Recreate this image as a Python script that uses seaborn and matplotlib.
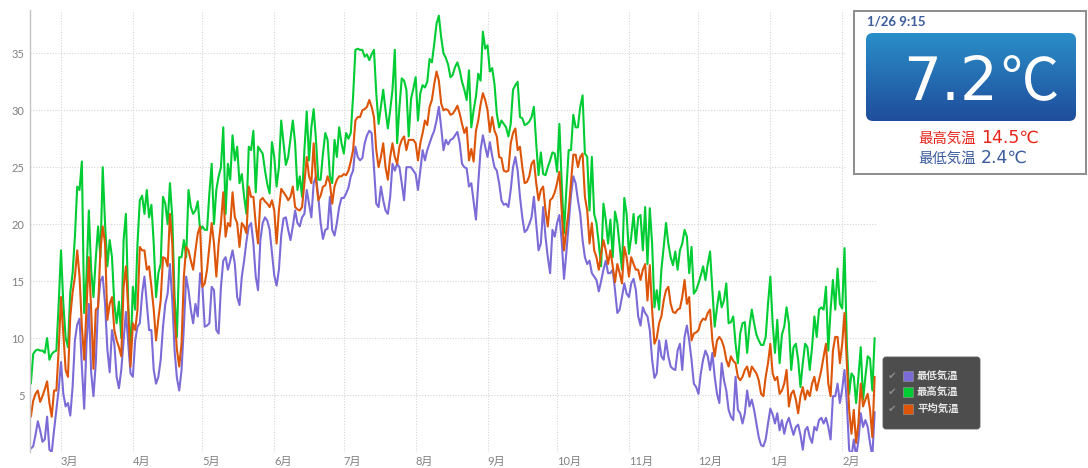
import numpy as np
import pandas as pd
import seaborn as sns
import matplotlib.pyplot as plt
import matplotlib.transforms as mtransforms
from matplotlib.patches import FancyBboxPatch, Rectangle
from matplotlib.colors import LinearSegmentedColormap

start_date = "2014-02-16"
series_names = ["最低気温", "最高気温", "平均気温"]
series_colors = ["#7b6bd6", "#00cc33", "#dd5508"]
month_labels = ["3月", "4月", "5月", "6月", "7月", "8月", "9月", "10月", "11月", "12月", "1月", "2月"]

# current readings shown in the panel
now_label = "1/26 9:15"
now_temp = 7.2
today_max = 14.5
today_min = 2.4

temp_max = [
    6.0, 8.6, 8.9, 9.0, 8.9, 8.9, 8.7, 10.0, 8.1, 8.6,
    8.8, 8.9, 13.0, 17.7, 13.0, 10.0, 9.2, 14.0, 15.7, 18.9,
    23.3, 23.0, 25.5, 12.2, 15.4, 21.2, 16.0, 13.6, 17.0, 19.8,
    17.1, 25.0, 20.0, 16.3, 18.6, 17.1, 13.0, 11.3, 13.2, 10.0,
    18.6, 20.9, 13.0, 8.4, 14.5, 12.5, 18.3, 22.1, 22.5, 20.9,
    23.0, 20.6, 21.7, 18.3, 13.6, 15.7, 16.5, 22.4, 21.8, 20.0,
    23.6, 20.6, 13.6, 10.1, 17.1, 17.1, 18.6, 17.1, 23.0, 21.5,
    20.9, 21.2, 22.0, 19.5, 19.8, 19.5, 19.5, 22.7, 25.3, 20.0,
    23.0, 24.2, 25.0, 28.5, 20.9, 25.3, 23.9, 27.8, 25.6, 26.8,
    23.6, 24.4, 22.4, 20.9, 26.8, 26.5, 28.2, 22.8, 26.8, 26.5,
    26.2, 24.7, 23.5, 22.7, 27.2, 25.9, 23.3, 25.0, 29.1, 27.1,
    25.2, 25.9, 27.5, 29.1, 27.1, 23.0, 24.2, 22.4, 26.5, 29.9,
    25.6, 28.5, 30.1, 27.4, 23.9, 23.9, 26.2, 28.0, 27.4, 24.2,
    23.6, 27.4, 25.9, 28.5, 27.1, 26.2, 28.0, 27.5, 28.0, 31.2,
    35.3, 35.4, 35.3, 35.3, 34.7, 34.9, 34.4, 34.9, 35.3, 31.5,
    28.8, 30.3, 31.8, 30.0, 28.4, 30.0, 31.8, 35.3, 27.1, 30.3,
    32.8, 32.6, 31.8, 27.7, 31.0, 31.9, 32.9, 29.1, 31.5, 32.2,
    32.0, 32.5, 34.5, 34.2, 35.8, 37.6, 38.3, 36.4, 35.0, 34.6,
    34.0, 32.9, 33.1, 33.8, 34.2, 33.5, 32.5, 31.8, 30.9, 33.5,
    28.5, 30.0, 31.2, 33.2, 32.6, 36.9, 35.4, 35.7, 33.4, 33.7,
    32.3, 29.7, 28.5, 29.1, 28.8, 28.5, 27.7, 28.8, 31.8, 32.2,
    32.5, 29.4, 29.3, 28.7, 28.8, 29.0, 29.4, 30.3, 27.1, 24.3,
    26.3, 24.4, 24.3, 25.0, 25.6, 26.3, 26.2, 24.6, 28.8, 23.6,
    19.2, 23.0, 26.5, 26.5, 29.6, 28.5, 28.5, 30.3, 31.3, 26.2,
    25.9, 21.2, 25.9, 20.9, 20.1, 18.3, 16.3, 21.8, 20.4, 18.3,
    20.4, 17.1, 21.1, 20.1, 18.0, 16.0, 22.3, 20.9, 17.4, 18.9,
    20.9, 18.3, 20.6, 20.8, 17.7, 21.5, 16.5, 21.4, 18.3, 12.7,
    14.2, 12.5, 16.0, 18.0, 20.1, 18.3, 17.1, 16.4, 17.6, 16.0,
    17.7, 18.3, 19.5, 18.9, 15.7, 18.0, 13.9, 14.2, 14.8, 15.5,
    16.3, 15.1, 16.5, 17.6, 14.2, 11.0, 12.7, 14.1, 12.7, 13.3,
    14.8, 11.3, 11.4, 11.9, 9.5, 7.8, 10.4, 11.3, 11.4, 8.7,
    11.0, 12.5, 11.3, 10.3, 9.8, 9.4, 9.4, 10.1, 13.0, 15.4,
    11.3, 8.7, 11.6, 7.8, 10.3, 11.0, 12.7, 11.3, 7.2, 9.2,
    9.5, 8.1, 5.7, 7.8, 9.5, 9.2, 7.2, 9.2, 11.9, 10.1,
    12.5, 12.7, 12.5, 14.5, 8.9, 12.5, 15.1, 12.5, 16.1, 13.0,
    12.6, 17.9, 9.5, 5.1, 6.9, 6.6, 4.3, 6.6, 9.2, 4.6,
    6.6, 8.4, 8.2, 5.4, 10.0,
]

temp_avg = [
    3.1, 4.5, 5.1, 5.4, 4.4, 4.9, 5.5, 6.2, 4.3, 3.1,
    5.4, 5.4, 9.0, 13.6, 10.4, 7.2, 6.6, 11.9, 14.0, 15.4,
    17.7, 15.4, 11.0, 8.1, 12.5, 17.1, 12.5, 7.3, 12.5, 12.7,
    17.7, 19.8, 18.3, 11.6, 13.0, 13.6, 10.7, 9.8, 9.2, 8.4,
    14.5, 16.3, 12.5, 7.5, 11.3, 10.7, 12.5, 18.0, 17.7, 17.7,
    16.0, 16.3, 14.5, 12.5, 9.8, 11.7, 13.3, 17.1, 17.0, 16.3,
    20.9, 18.3, 11.9, 9.0, 7.5, 9.5, 15.4, 18.0, 17.7, 16.8,
    16.0, 17.7, 19.2, 19.8, 14.5, 14.8, 16.0, 18.0, 20.1, 18.3,
    15.4, 18.3, 20.1, 22.8, 18.9, 20.1, 19.8, 22.8, 20.6, 20.1,
    18.0, 20.1, 19.8, 19.2, 23.3, 22.4, 22.4, 20.0, 18.3, 22.1,
    22.3, 22.0, 21.8, 21.5, 22.1, 21.2, 18.3, 21.2, 23.1, 22.8,
    22.5, 22.1, 22.4, 23.3, 21.5, 21.3, 21.2, 21.5, 23.6, 25.9,
    24.2, 23.6, 27.1, 23.9, 22.1, 22.5, 23.3, 23.4, 24.2, 23.6,
    21.8, 23.3, 23.9, 24.2, 24.2, 24.4, 24.3, 24.7, 25.5, 26.5,
    29.1, 29.4, 29.4, 30.0, 30.1, 30.3, 30.9, 30.3, 29.4, 26.5,
    25.0, 25.9, 27.1, 25.0, 23.9, 25.9, 27.1, 25.9, 25.3, 26.8,
    27.4, 27.7, 26.5, 27.4, 27.4, 27.4, 27.1, 25.6, 27.1, 28.0,
    29.1, 28.7, 30.3, 30.9, 32.3, 33.4, 32.6, 30.6, 30.0, 30.1,
    30.0, 29.6, 29.7, 30.0, 30.4, 29.7, 28.8, 28.0, 28.5, 25.6,
    26.6, 25.5, 28.2, 29.1, 30.5, 31.5, 30.9, 30.0, 28.1, 29.4,
    28.2, 27.7, 25.9, 25.8, 24.7, 24.6, 24.7, 27.1, 28.0, 28.4,
    26.5, 26.8, 25.0, 23.6, 23.7, 24.2, 25.3, 25.6, 23.6, 22.1,
    23.0, 23.3, 21.2, 19.8, 22.1, 22.3, 22.8, 23.6, 24.6, 21.2,
    17.7, 19.5, 21.2, 23.6, 26.1, 26.1, 25.0, 25.9, 26.2, 22.4,
    21.2, 18.3, 20.1, 17.7, 17.1, 16.0, 17.4, 18.6, 17.7, 16.5,
    17.7, 16.3, 14.9, 16.5, 15.7, 14.8, 18.0, 17.1, 15.4, 17.1,
    16.5, 16.0, 16.0, 15.1, 16.0, 16.5, 13.3, 16.4, 12.5, 9.5,
    10.0, 11.3, 11.9, 13.3, 14.2, 14.5, 13.0, 12.3, 12.2, 12.5,
    12.6, 13.6, 15.1, 13.0, 13.6, 9.8, 10.4, 10.5, 10.7, 11.4,
    11.7, 11.6, 12.2, 12.5, 9.8, 8.4, 9.8, 10.1, 9.8, 9.2,
    8.1, 7.5, 8.4, 8.0, 7.8, 6.6, 6.3, 6.6, 7.2, 7.5,
    6.6, 7.5, 7.2, 6.9, 6.3, 5.1, 4.9, 6.6, 7.8, 9.5,
    6.9, 6.3, 6.6, 5.1, 5.4, 6.0, 7.2, 4.0, 5.1, 5.4,
    4.6, 3.4, 4.9, 5.7, 4.6, 5.4, 4.9, 6.0, 6.6, 5.4,
    6.3, 7.2, 8.4, 9.5, 6.0, 4.9, 8.9, 10.1, 10.1, 7.8,
    9.5, 12.2, 7.8, 3.7, 1.6, 3.7, 0.8, 2.5, 6.0, 4.0,
    4.6, 5.1, 3.7, 1.3, 6.6,
]

temp_min = [
    0.3, 0.5, 1.5, 2.7, 1.9, 0.9, 1.1, 3.1, 0.2, 0.0,
    1.9, 3.7, 5.5, 7.9, 5.1, 4.0, 4.3, 3.2, 5.7, 9.8,
    11.2, 11.7, 7.5, 3.8, 9.5, 13.0, 7.0, 4.9, 7.8, 13.0,
    15.0, 15.4, 13.0, 9.0, 7.0, 10.7, 9.5, 6.6, 5.6, 7.2,
    9.8, 12.3, 9.5, 6.9, 6.6, 9.8, 11.0, 11.3, 13.9, 15.4,
    13.0, 10.7, 10.7, 7.2, 6.0, 6.6, 8.1, 11.0, 13.0, 13.9,
    16.5, 13.3, 8.9, 6.5, 5.4, 7.2, 11.0, 15.4, 14.2, 12.5,
    11.3, 13.0, 11.9, 15.7, 14.5, 11.0, 11.1, 11.3, 14.5, 14.2,
    10.7, 10.4, 14.5, 16.8, 17.1, 16.0, 16.8, 17.7, 16.5, 13.6,
    12.9, 15.4, 16.8, 18.5, 19.8, 20.1, 18.3, 15.4, 14.2, 18.6,
    20.1, 20.6, 20.3, 19.5, 17.5, 15.5, 14.6, 16.0, 19.0, 20.5,
    20.6, 19.5, 18.6, 19.8, 21.2, 20.1, 19.8, 20.6, 20.9, 23.0,
    21.8, 20.6, 23.6, 24.2, 22.4, 20.1, 18.7, 19.5, 19.6, 22.4,
    19.5, 19.0, 20.1, 21.5, 22.3, 22.3, 22.7, 23.2, 24.2, 24.7,
    26.8, 25.9, 25.6, 25.8, 27.1, 27.8, 28.2, 28.0, 25.0, 21.8,
    21.5, 23.3, 22.1, 21.2, 20.9, 22.4, 25.3, 24.7, 25.3, 25.0,
    23.6, 22.1, 25.0, 25.0, 25.0, 24.7, 24.4, 23.0, 24.7, 26.5,
    25.6, 26.5, 27.1, 27.7, 28.2, 29.1, 30.3, 28.5, 26.5, 27.4,
    27.0, 27.4, 27.5, 27.8, 28.1, 27.1, 25.3, 25.0, 24.9, 23.3,
    23.6, 22.0, 20.4, 23.6, 26.5, 27.8, 26.8, 25.9, 27.2, 26.0,
    25.0, 24.7, 23.6, 22.1, 21.7, 21.8, 21.5, 23.0, 25.0, 25.9,
    24.7, 22.4, 20.6, 19.3, 19.5, 20.0, 20.6, 22.4, 20.1, 17.7,
    18.3, 21.5, 18.9, 17.1, 15.7, 19.5, 18.9, 20.1, 20.8, 18.5,
    15.2, 17.5, 20.0, 22.5, 24.2, 23.6, 22.1, 20.9, 18.6, 17.1,
    16.5, 16.8, 15.7, 15.4, 15.1, 14.1, 15.0, 16.0, 16.8, 15.7,
    15.7, 16.0, 14.2, 12.2, 12.5, 13.6, 14.8, 13.9, 13.6, 14.8,
    15.2, 14.2, 11.9, 11.1, 12.7, 12.2, 11.9, 10.7, 8.1, 6.5,
    6.9, 9.8, 8.4, 8.1, 9.8, 8.4, 7.5, 7.3, 7.2, 8.9,
    9.5, 7.2, 10.1, 11.1, 9.8, 8.1, 6.0, 5.7, 5.1, 6.9,
    8.1, 8.9, 8.4, 7.2, 8.7, 6.6, 5.1, 4.3, 7.8, 6.3,
    5.4, 3.7, 3.1, 2.8, 6.6, 3.7, 3.4, 2.5, 3.4, 5.4,
    4.0, 4.6, 3.7, 2.5, 1.3, 0.6, 0.5, 1.1, 2.5, 3.8,
    3.3, 2.5, 3.4, 1.9, 2.8, 1.6, 2.5, 3.0, 2.2, 1.5,
    2.2, 2.4, 1.5, 0.2, 1.9, 2.2, 1.3, 0.8, 2.2, 1.9,
    2.8, 3.0, 2.5, 3.0, 2.2, 1.1, 4.9, 4.9, 6.0, 4.3,
    5.5, 7.2, 4.3, 0.2, -0.4, 1.1, -0.4, 1.0, 3.4, 2.2,
    2.8, 2.2, 0.8, -0.4, 3.5,
]

dates = pd.date_range(start_date, periods=len(temp_max), freq="D")
df = pd.DataFrame({
    "日付": np.tile(dates, 3),
    "気温": temp_min + temp_max + temp_avg,
    "系列": np.repeat(series_names, len(dates)),
})

sns.set_style("white")
plt.rcParams["font.family"] = ["Lato", "Noto Sans CJK JP", "DejaVu Sans"]

fig = plt.figure(figsize=(10.88, 4.68), dpi=100)
ax = fig.add_axes([30 / 1088, 16 / 468, 846 / 1088, 442 / 468])

sns.lineplot(data=df, x="日付", y="気温", hue="系列", hue_order=series_names,
             palette=series_colors, linewidth=1.5, errorbar=None, legend=False, ax=ax)

ax.set_xlim(dates[0] - pd.Timedelta(hours=9), dates[-1] + pd.Timedelta(hours=14))
ax.set_ylim(0, 38.8)
ax.set_xlabel("")
ax.set_ylabel("")

ax.set_yticks(range(0, 40, 5))
ax.set_yticklabels([""] + [str(v) for v in range(5, 40, 5)])
month_starts = pd.date_range("2014-03-01", periods=len(month_labels), freq="MS")
ax.set_xticks(month_starts)
ax.set_xticklabels(month_labels, ha="left")
offset = mtransforms.ScaledTranslation(4 / 100, 0, fig.dpi_scale_trans)
for lbl in ax.get_xticklabels():
    lbl.set_transform(lbl.get_transform() + offset)

ax.tick_params(axis="both", length=0, labelsize=8, labelcolor="#808080")
ax.tick_params(axis="y", pad=4)
ax.tick_params(axis="x", pad=3)
ax.grid(True, color="#d6d6d6", linestyle=(0, (1, 1.5)), linewidth=0.8)
for side in ["top", "right", "bottom"]:
    ax.spines[side].set_visible(False)
ax.spines["left"].set_color("#c4c4c4")
ax.spines["left"].set_linewidth(1)

# overlay in pixel coordinates for the current-reading panel and legend
ov = fig.add_axes([0, 0, 1, 1])
ov.set_zorder(3)
ov.axis("off")

ov.add_patch(Rectangle((846, 4), 242, 178, facecolor="white", edgecolor="none"))
ov.add_patch(Rectangle((854, 11), 232, 163, facecolor="white", edgecolor="#8c8c8c", linewidth=1.4))
box = FancyBboxPatch((866, 33), 210, 88, boxstyle="round,pad=0,rounding_size=7",
                     facecolor="none", edgecolor="none")
ov.add_patch(box)
blue = LinearSegmentedColormap.from_list("panel", ["#2a8ec8", "#1f4d9c"])
img = ov.imshow(np.linspace(0, 1, 100).reshape(-1, 1), cmap=blue, extent=(866, 1076, 121, 33),
                aspect="auto", interpolation="bicubic", zorder=2)
img.set_clip_path(box)
ov.set_xlim(0, 1088)
ov.set_ylim(468, 0)

ov.text(867, 25, now_label, color="#3c5c9c", fontsize=9.5, fontweight="bold", family=["Lato"])
ov.text(998, 100, f"{now_temp}", color="white", fontsize=43, ha="right", va="baseline",
        family=["DejaVu Sans"], zorder=4)
ov.text(1000, 100, "℃", color="white", fontsize=42, ha="left", va="baseline",
        family=["Noto Sans CJK JP"], zorder=4)

ov.text(976, 143, "最高気温", color="#e8251b", fontsize=10.4, ha="right", va="baseline",
        family=["Noto Sans CJK JP"])
ov.text(981, 143, f"{today_max}℃", color="#e8251b", fontsize=12.5, ha="left", va="baseline",
        family=["DejaVu Sans", "Noto Sans CJK JP"])
ov.text(976, 163, "最低気温", color="#3a5b9e", fontsize=10.4, ha="right", va="baseline",
        family=["Noto Sans CJK JP"])
ov.text(981, 163, f"{today_min}℃", color="#3a5b9e", fontsize=12.5, ha="left", va="baseline",
        family=["DejaVu Sans", "Noto Sans CJK JP"])

# legend
ov.add_patch(FancyBboxPatch((883, 357), 97, 72, boxstyle="round,pad=0,rounding_size=3",
                            facecolor="#4d4d4d", edgecolor="#5a5a5a", linewidth=0.6))
for i, (name, color) in enumerate(zip(series_names, series_colors)):
    y = 375.5 + i * 16.5
    ov.text(892, y, "✔", color="#8a8a8a", fontsize=7.5, ha="center", va="center", family=["DejaVu Sans"])
    ov.add_patch(Rectangle((903, y - 5), 10, 10, facecolor=color, edgecolor="#9a9a9a", linewidth=0.4))
    ov.text(917, y, name, color="#e6e6e6", fontsize=7.5, fontweight="bold", ha="left", va="center",
            family=["Noto Sans CJK JP"])

fig.savefig("out.png", dpi=100)
